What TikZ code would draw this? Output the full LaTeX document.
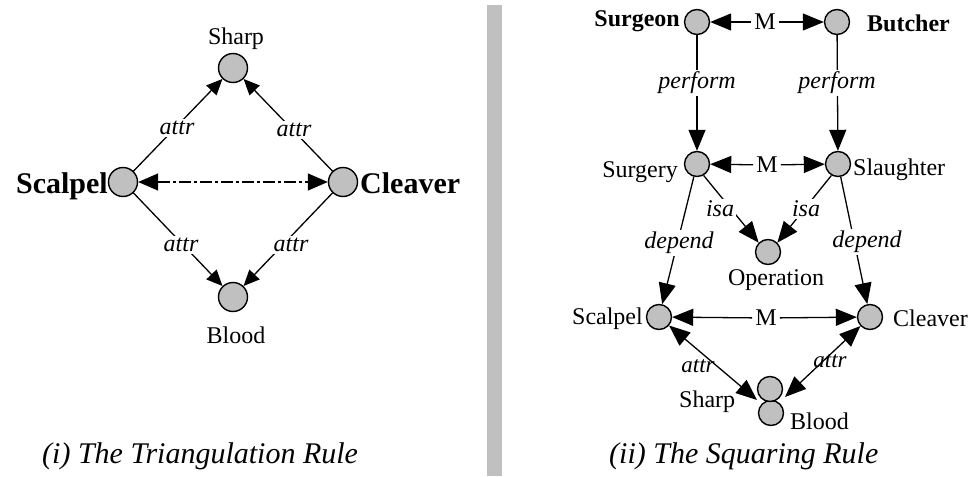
\documentclass[tikz,border=0pt]{standalone}
\usepackage{fontspec}
\setmainfont{Liberation Serif}
\usetikzlibrary{arrows.meta}
\definecolor{nodegray}{RGB}{192,192,192}

\begin{document}
\begin{tikzpicture}[x=1pt,y=-1pt,
  dot/.style={circle,draw=black,fill=nodegray,line width=1.4pt,minimum size=29pt,inner sep=0pt},
  sdot/.style={dot,minimum size=25pt},
  edge/.style={draw=black,line width=1.3pt},
  tipa/.style={-{Triangle[length=16pt,width=14pt]}},
  tipb/.style={{Triangle[length=20pt,width=17pt]}-{Triangle[length=20pt,width=17pt]}},
  tipc/.style={-{Triangle[length=21pt,width=17pt]}},
  tipd/.style={{Triangle[length=21pt,width=17pt]}-{Triangle[length=21pt,width=17pt]}},
  lab/.style={font=\fontsize{24}{28}\selectfont\itshape,inner sep=2pt,fill=white},
  labn/.style={font=\fontsize{23}{28}\selectfont\itshape,inner sep=0pt},
  txt/.style={font=\fontsize{24}{28}\selectfont,inner sep=0pt},
  bigb/.style={font=\fontsize{30}{34}\selectfont\bfseries,inner sep=0pt},
  rb/.style={font=\fontsize{24}{28}\selectfont\bfseries,inner sep=0pt},
  mlab/.style={font=\fontsize{24}{28}\selectfont,inner sep=3pt},
  captext/.style={font=\fontsize{30}{34}\selectfont\itshape,inner sep=0pt}]
\useasboundingbox (0,0) rectangle (968,476);

% ---------- left panel: triangulation ----------
\node[dot] (sharpL) at (233,68) {};
\node[dot] (scalpelL) at (123,182) {};
\node[dot] (cleaverL) at (343,182) {};
\node[dot] (bloodL) at (233,297) {};
\node[txt,anchor=base] (sharpLt) at (236,45) {Sharp};
\node[txt,anchor=base] (bloodLt) at (236,343) {Blood};
\node[bigb,anchor=base east] (scalpelLt) at (108,193) {Scalpel};
\node[bigb,anchor=base west] (cleaverLt) at (360,193) {Cleaver};

\draw[edge,tipa] (scalpelL) -- (sharpL);
\draw[edge,tipa] (cleaverL) -- (sharpL);
\draw[edge,tipa] (scalpelL) -- (bloodL);
\draw[edge,tipa] (cleaverL) -- (bloodL);
\draw[edge,tipb,dash pattern=on 12pt off 3pt on 3pt off 3pt] (scalpelL) -- (cleaverL);

\node[lab] (attr1) at (177,128) {attr};
\node[lab] (attr2) at (294,130) {attr};
\node[lab] (attr3) at (181,245) {attr};
\node[lab] (attr4) at (291,245) {attr};

\node[captext,anchor=base west] (capL) at (42,463) {(i) The Triangulation Rule};

% ---------- separator ----------
\fill[nodegray] (487,5) rectangle (502,476);

% ---------- right panel: squaring ----------
\node[sdot] (surgeon) at (697,22) {};
\node[sdot] (butcher) at (837,22) {};
\node[mlab] (m1) at (765,22) {M};
\node[sdot] (surgery) at (697,164) {};
\node[sdot] (slaughter) at (838,164) {};
\node[mlab] (m2) at (767,165) {M};
\node[sdot] (operation) at (768,252) {};
\node[sdot] (scalpelR) at (659,317) {};
\node[sdot] (cleaverR) at (870,317) {};
\node[mlab] (m3) at (766,318) {M};
\node[sdot] (bloodR) at (771,413) {};
\node[sdot] (sharpR) at (770,389) {};
\coordinate (pinchL) at (757,400);
\coordinate (pinchR) at (785,397);

\node[rb,anchor=base east] (surgeonT) at (680,27) {Surgeon};
\node[rb,anchor=base west] (butcherT) at (867,32) {Butcher};
\node[txt,anchor=base east] (surgeryT) at (678,177) {Surgery};
\node[txt,anchor=base west] (slaughterT) at (853,175) {Slaughter};
\node[txt,anchor=base] (operationT) at (776,285) {Operation};
\node[txt,anchor=base east] (scalpelRT) at (643,324) {Scalpel};
\node[txt,anchor=base west] (cleaverRT) at (893,326) {Cleaver};
\node[txt,anchor=base west] (sharpRT) at (679,407) {Sharp};
\node[txt,anchor=base west] (bloodRT) at (790,429) {Blood};

% mapping links
\draw[edge,tipc] (m1) -- (surgeon);
\draw[edge,tipc] (m1) -- (butcher);
\draw[edge,tipc] (m2) -- (surgery);
\draw[edge,tipc] (m2) -- (slaughter);
\draw[edge,tipc] (m3) -- (scalpelR);
\draw[edge,tipc] (m3) -- (cleaverR);

% relations
\draw[edge,tipc] (surgeon) -- (surgery);
\draw[edge,tipc] (butcher) -- (slaughter);
\draw[edge,tipc] (surgery.-60) -- (operation.135);
\draw[edge,tipc] (slaughter.-120) -- (operation.45);
\draw[edge,tipc] (surgery) -- (scalpelR);
\draw[edge,tipc] (slaughter) -- (cleaverR);
\draw[edge,tipd] (scalpelR) -- (pinchL);
\draw[edge,tipd] (cleaverR) -- (pinchR);

\node[lab] (perf1) at (697,83) {perform};
\node[lab] (perf2) at (837,83) {perform};
\node[lab] (isa1) at (720,209) {isa};
\node[lab] (isa2) at (806,209) {isa};
\node[lab] (dep1) at (679,243) {depend};
\node[lab] (dep2) at (867,242) {depend};
\node[labn] (attr5) at (698,366) {attr};
\node[labn] (attr6) at (830,361) {attr};

\node[captext,anchor=base west] (capR) at (609,463) {(ii) The Squaring Rule};
\end{tikzpicture}
\end{document}
